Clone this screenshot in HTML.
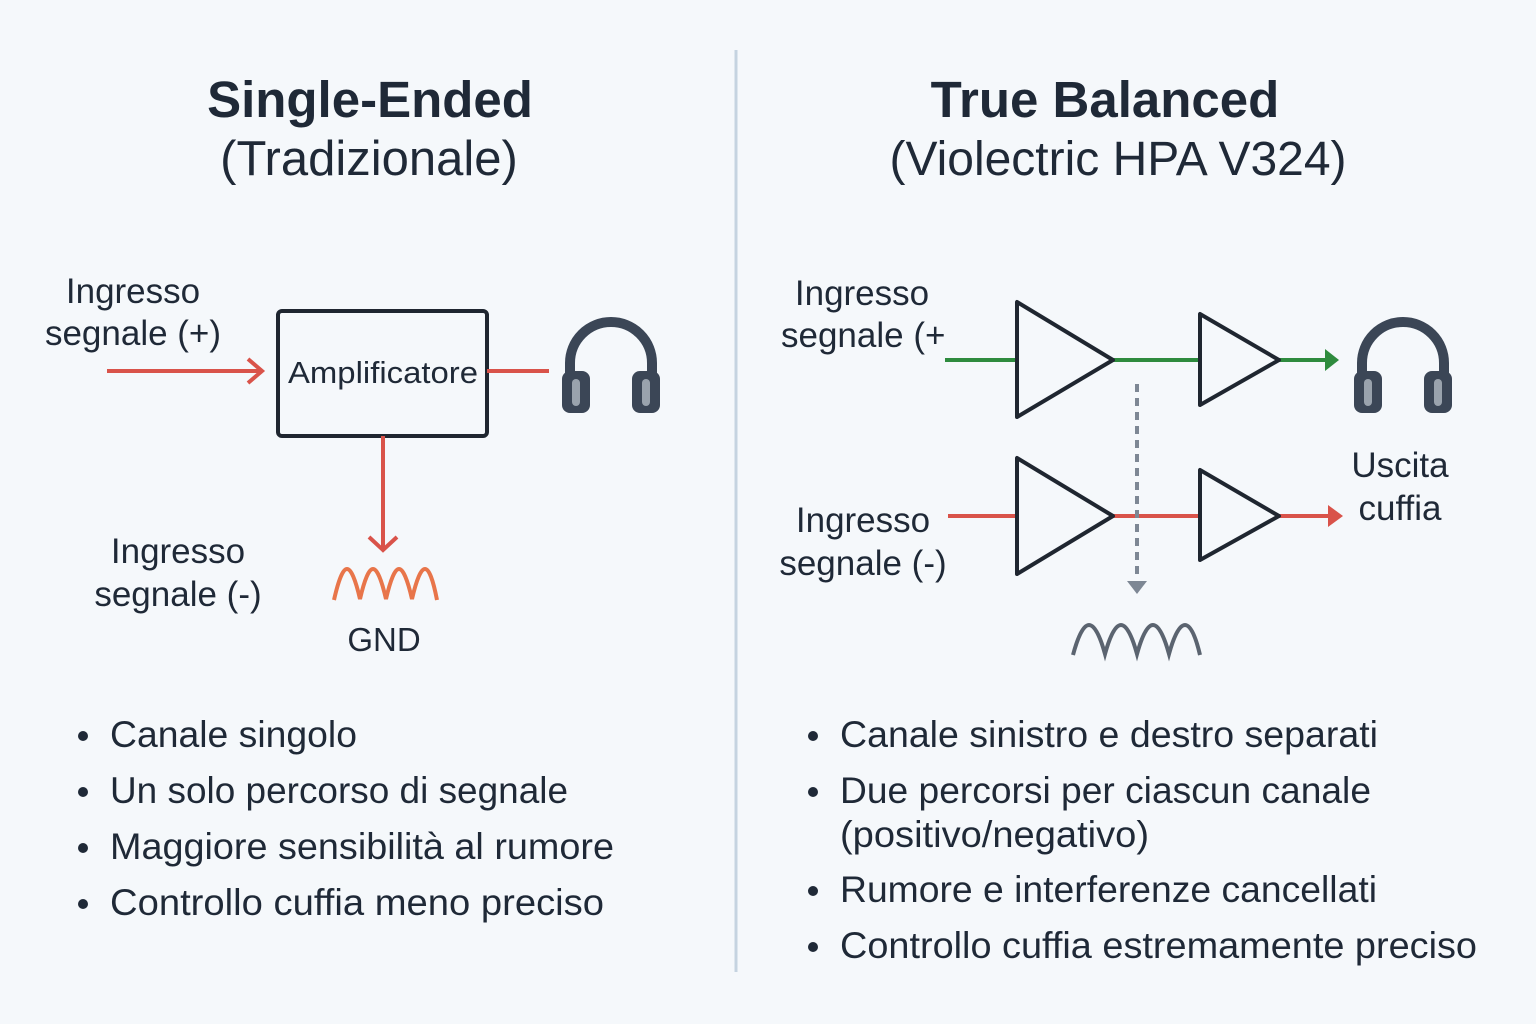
<!DOCTYPE html>
<html><head><meta charset="utf-8"><style>
html,body{margin:0;padding:0;background:#f5f8fb;}
svg{display:block}
text{font-family:"Liberation Sans","DejaVu Sans",sans-serif;fill:#1f2937}
</style></head><body>
<svg width="1536" height="1024" viewBox="0 0 1536 1024" xmlns="http://www.w3.org/2000/svg">
<rect width="1536" height="1024" fill="#f5f8fb"/>
<line x1="736" y1="50" x2="736" y2="972" stroke="#c5d3e0" stroke-width="3"/>
<g text-anchor="middle">
<text x="370" y="117" font-size="51" font-weight="bold">Single-Ended</text>
<text x="369" y="175" font-size="49">(Tradizionale)</text>
<text x="1105" y="117" font-size="51" font-weight="bold">True Balanced</text>
<text x="1118" y="175" font-size="48">(Violectric HPA V324)</text>
</g>
<defs>
<g id="hp">
<path d="M9 82 V50 A41 41 0 0 1 91 50 V82" fill="none" stroke="#3b4656" stroke-width="10"/>
<rect x="1" y="58" width="28" height="42" rx="8" fill="#3b4656"/>
<rect x="71" y="58" width="28" height="42" rx="8" fill="#3b4656"/>
<rect x="11" y="66" width="8" height="27" rx="4" fill="#9aa3ad"/>
<rect x="81" y="66" width="8" height="27" rx="4" fill="#9aa3ad"/>
</g>
</defs>
<!-- left diagram -->
<g font-size="35" text-anchor="middle">
<text x="133" y="303">Ingresso</text>
<text x="133" y="345">segnale (+)</text>
<text x="178" y="563">Ingresso</text>
<text x="178" y="606">segnale (-)</text>
<text x="384" y="651" font-size="33">GND</text>
</g>
<line x1="107" y1="371" x2="260" y2="371" stroke="#d9534a" stroke-width="4"/>
<polyline points="248,359 262,371 248,383" fill="none" stroke="#d9534a" stroke-width="4"/>
<rect x="278" y="311" width="209" height="125" rx="4" fill="#f5f8fb" stroke="#1f2630" stroke-width="4"/>
<text x="383" y="383" font-size="31" text-anchor="middle" textLength="190" lengthAdjust="spacingAndGlyphs">Amplificatore</text>
<line x1="487" y1="371" x2="549" y2="371" stroke="#d9534a" stroke-width="4"/>
<use href="#hp" x="561" y="313"/>
<line x1="383" y1="436" x2="383" y2="549" stroke="#d9534a" stroke-width="4"/>
<polyline points="369,537 383,550 397,537" fill="none" stroke="#d9534a" stroke-width="4"/>
<path d="M334 600 Q341 569 347 569 Q353 569 360 599 Q367 569 373 569 Q379 569 386 599 Q393 569 399 569 Q405 569 412 599 Q419 569 425 569 Q431 569 437 600" fill="none" stroke="#e8754a" stroke-width="4"/>
<g font-size="37">
<text x="110" y="747" textLength="247" lengthAdjust="spacingAndGlyphs">Canale singolo</text>
<text x="110" y="803" textLength="458" lengthAdjust="spacingAndGlyphs">Un solo percorso di segnale</text>
<text x="110" y="859" textLength="504" lengthAdjust="spacingAndGlyphs">Maggiore sensibilità al rumore</text>
<text x="110" y="915" textLength="494" lengthAdjust="spacingAndGlyphs">Controllo cuffia meno preciso</text>
<text x="840" y="747" textLength="538" lengthAdjust="spacingAndGlyphs">Canale sinistro e destro separati</text>
<text x="840" y="803" textLength="531" lengthAdjust="spacingAndGlyphs">Due percorsi per ciascun canale</text>
<text x="840" y="847" textLength="309" lengthAdjust="spacingAndGlyphs">(positivo/negativo)</text>
<text x="840" y="902" textLength="537" lengthAdjust="spacingAndGlyphs">Rumore e interferenze cancellati</text>
<text x="840" y="958" textLength="637" lengthAdjust="spacingAndGlyphs">Controllo cuffia estremamente preciso</text>
</g>
<g fill="#1f2937">
<circle cx="83" cy="736" r="5"/><circle cx="83" cy="792" r="5"/><circle cx="83" cy="848" r="5"/><circle cx="83" cy="904" r="5"/>
<circle cx="813" cy="736" r="5"/><circle cx="813" cy="792" r="5"/><circle cx="813" cy="891" r="5"/><circle cx="813" cy="947" r="5"/>
</g>
<!-- right diagram -->
<g font-size="35">
<text x="862" y="305" text-anchor="middle">Ingresso</text>
<text x="781" y="347">segnale (+</text>
<text x="863" y="532" text-anchor="middle">Ingresso</text>
<text x="863" y="575" text-anchor="middle">segnale (-)</text>
<text x="1400" y="477" text-anchor="middle">Uscita</text>
<text x="1400" y="520" text-anchor="middle">cuffia</text>
</g>
<line x1="945" y1="360" x2="1325" y2="360" stroke="#2e8b3e" stroke-width="4"/>
<polygon points="1325,349 1339,360 1325,371" fill="#2e8b3e"/>
<line x1="948" y1="516" x2="1328" y2="516" stroke="#d9534a" stroke-width="4"/>
<polygon points="1328,505 1343,516 1328,527" fill="#d9534a"/>
<line x1="1137" y1="384" x2="1137" y2="580" stroke="#7d8794" stroke-width="4" stroke-dasharray="8,6"/>
<polygon points="1127,581 1147,581 1137,594" fill="#7d8794"/>
<g fill="#f5f8fb" stroke="#1f2630" stroke-width="4" stroke-linejoin="round">
<polygon points="1017,302 1017,417 1113,360"/>
<polygon points="1200,314 1200,405 1279,360"/>
<polygon points="1017,458 1017,574 1113,516"/>
<polygon points="1200,470 1200,560 1279,516"/>
</g>
<path d="M1073 655 Q1081 625 1089 625 Q1097 625 1105 654 Q1113 625 1121 625 Q1129 625 1137 654 Q1145 625 1153 625 Q1161 625 1169 654 Q1177 625 1185 625 Q1193 625 1200 655" fill="none" stroke="#5b6470" stroke-width="4"/>
<use href="#hp" x="1353" y="313"/>
</svg>
</body></html>
